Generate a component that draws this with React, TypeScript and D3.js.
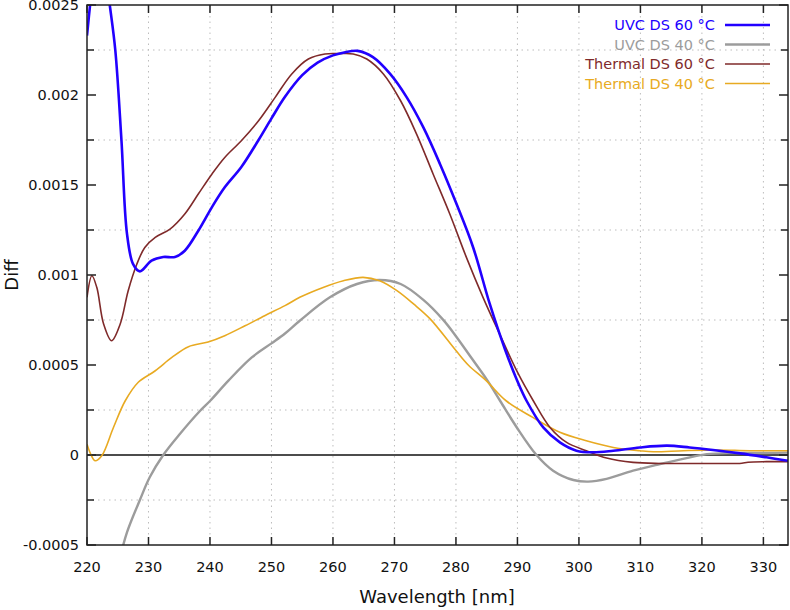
import React from "react";
import * as d3 from "d3";

const uvc60Wl = [220, 220.5, 221.5, 222.5, 223.7, 224.6, 225.6, 226.5, 227.5, 228.6, 230.5, 232.4, 234.3, 235.9, 238.1, 240.3, 242.4, 245.1, 247.9, 250, 252.2, 255, 257.5, 260, 262, 264, 266.5, 269.3, 272, 274.7, 277.4, 280.1, 282.8, 285.5, 288, 290, 291.5, 294.2, 296.9, 299.6, 302.3, 305.6, 309.9, 314.3, 318, 321.8, 326.2, 330.5, 334];
const uvc60Val = [0.00233, 0.0025, 0.0028, 0.0028, 0.0025, 0.00225, 0.00175, 0.00123, 0.00106, 0.00102, 0.00108, 0.0011, 0.0011, 0.001135, 0.001246, 0.001376, 0.001487, 0.0016, 0.00175, 0.00187, 0.00199, 0.00211, 0.00218, 0.00222, 0.002238, 0.002245, 0.00221, 0.002117, 0.001987, 0.00182, 0.001617, 0.001394, 0.001153, 0.000839, 0.000585, 0.00041, 0.0003, 0.000153, 0.00007, 0.000024, 0.000015, 0.000024, 0.000042, 0.000052, 0.000042, 0.000028, 0.000009, -0.000013, -0.000032];

const uvc40Wl = [225.3, 226.5, 228.6, 230.2, 232.4, 235.1, 238.4, 240, 243, 246.8, 250, 252.2, 254.6, 259.5, 263.9, 267.6, 271, 274.7, 277.9, 280, 282.5, 285, 287.2, 289.9, 293.1, 295.8, 299.1, 301.5, 304.5, 308.8, 313.2, 317.5, 320.8, 325.1, 330.5, 334];
const uvc40Val = [-0.00058, -0.00043, -0.00025, -0.000124, 0, 0.000117, 0.000246, 0.0003, 0.000413, 0.000542, 0.00062, 0.000675, 0.000746, 0.000876, 0.00095, 0.000972, 0.00095, 0.000862, 0.000752, 0.00066, 0.00054, 0.00042, 0.0003, 0.000153, 0, -0.000087, -0.000139, -0.000148, -0.000133, -0.000087, -0.00005, -0.000017, 0.000005, 0.000011, 0.000011, 0.000013];

const th60Wl = [220, 220.8, 221.6, 222.7, 224, 225.4, 226.7, 228.1, 229.4, 231.1, 233.5, 235.9, 238.1, 240.3, 242.4, 245.1, 247.9, 250.6, 253.3, 256, 258.7, 261, 263.3, 265.5, 268.2, 271, 273.6, 276.3, 279, 281.7, 284.4, 287, 290, 292.6, 295.3, 298, 301.2, 304.5, 308.8, 313.2, 319.7, 325.1, 326.5, 327.5, 330.5, 334];
const th60Val = [0.000876, 0.000996, 0.00093, 0.000728, 0.000635, 0.000728, 0.000913, 0.00106, 0.001153, 0.001209, 0.001255, 0.001339, 0.00145, 0.00156, 0.001653, 0.001746, 0.001857, 0.001987, 0.002117, 0.0022, 0.002228, 0.00223, 0.002228, 0.0022, 0.002117, 0.001968, 0.001783, 0.00156, 0.001339, 0.001098, 0.000876, 0.00068, 0.00046, 0.0003, 0.000153, 0.00007, 0.000024, -0.000017, -0.000041, -0.000047, -0.000047, -0.000047, -0.000046, -0.00004, -0.000037, -0.000037];

const th40Wl = [220, 220.6, 221.3, 222.4, 224.3, 226.2, 228.3, 231.1, 233.8, 236.5, 239.7, 242.4, 245.7, 248.9, 252.2, 254.6, 258.4, 261.7, 264.9, 267.6, 270.4, 273.1, 275.8, 280, 282, 285, 288.2, 292.5, 296.9, 301.2, 305.6, 309.9, 312.1, 317, 322.4, 327.8, 334];
const th40Val = [0.00006, 0.000005, -0.000032, -0.000004, 0.000153, 0.0003, 0.000403, 0.000468, 0.000542, 0.000602, 0.000628, 0.000663, 0.000718, 0.000774, 0.00083, 0.000876, 0.000931, 0.000968, 0.000987, 0.000968, 0.000913, 0.000839, 0.000756, 0.00058, 0.0005, 0.00041, 0.0003, 0.000209, 0.000126, 0.000079, 0.000042, 0.000024, 0.000018, 0.000024, 0.000028, 0.000024, 0.000024];

const seriesNames = ["UVC DS 60 °C", "UVC DS 40 °C", "Thermal DS 60 °C", "Thermal DS 40 °C"];
const seriesColors = ["#2200ff", "#9c9c9c", "#7f2a2a", "#e8aa22"];
const seriesWidths = [2.6, 2.4, 1.6, 1.6];

const xTicks = [220, 230, 240, 250, 260, 270, 280, 290, 300, 310, 320, 330];
const yTicks = [-0.0005, 0, 0.0005, 0.001, 0.0015, 0.002, 0.0025];
const yTickLabels = ["-0.0005", "0", "0.0005", "0.001", "0.0015", "0.002", "0.0025"];
const yMinorTicks = [-0.00025, 0.00025, 0.00075, 0.00125, 0.00175, 0.00225];

export default function App() {
  const L = 87, R = 788, T = 5, B = 545;
  const x = d3.scaleLinear().domain([220, 334]).range([L, R]);
  const y = d3.scaleLinear().domain([-0.0005, 0.0025]).range([B, T]);
  const font = "'DejaVu Sans', Verdana, sans-serif";

  const datasets = [
    { wl: uvc60Wl, v: uvc60Val },
    { wl: uvc40Wl, v: uvc40Val },
    { wl: th60Wl, v: th60Val },
    { wl: th40Wl, v: th40Val },
  ];
  const line = d3
    .line<[number, number]>()
    .x((d) => x(d[0]))
    .y((d) => y(d[1]))
    .curve(d3.curveCatmullRom.alpha(0.5));

  const drawOrder = [1, 3, 2, 0];

  return (
    <svg
      width={790}
      height={610}
      style={{ position: "absolute", left: 0, top: 0, background: "#fff" }}
      fontFamily={font}
    >
      <defs>
        <clipPath id="plotClip">
          <rect x={L} y={T} width={R - L} height={B - T} />
        </clipPath>
      </defs>
      <rect x={0} y={0} width={790} height={610} fill="#fff" />
      {xTicks.slice(1).map((t) => (
        <line key={"gx" + t} x1={x(t)} x2={x(t)} y1={T} y2={B} stroke="#bdbdbd" strokeWidth={1} strokeDasharray="1.5,4" />
      ))}
      {yMinorTicks.map((t) => (
        <line key={"gy" + t} x1={L} x2={R} y1={y(t)} y2={y(t)} stroke="#bdbdbd" strokeWidth={1} strokeDasharray="1.5,4" />
      ))}
      <line x1={L} x2={R} y1={y(0)} y2={y(0)} stroke="#111" strokeWidth={1.5} />
      <g clipPath="url(#plotClip)">
        {drawOrder.map((i) => (
          <path
            key={"s" + i}
            d={line(datasets[i].wl.map((w, k) => [w, datasets[i].v[k]] as [number, number])) || ""}
            fill="none"
            stroke={seriesColors[i]}
            strokeWidth={seriesWidths[i]}
            strokeLinejoin="round"
          />
        ))}
      </g>
      <rect x={L} y={T} width={R - L} height={B - T} fill="none" stroke="#222" strokeWidth={1.5} />
      {xTicks.map((t) => (
        <g key={"xt" + t}>
          <line x1={x(t)} x2={x(t)} y1={B} y2={B - 8} stroke="#222" strokeWidth={1.5} />
          <line x1={x(t)} x2={x(t)} y1={T} y2={T + 8} stroke="#222" strokeWidth={1.5} />
          <text x={x(t)} y={572} textAnchor="middle" fontSize={14.5} fill="#111">
            {t}
          </text>
        </g>
      ))}
      {yTicks.map((t, i) => (
        <g key={"yt" + t}>
          <line x1={L} x2={L + 9} y1={y(t)} y2={y(t)} stroke="#222" strokeWidth={1.5} />
          <line x1={R} x2={R - 9} y1={y(t)} y2={y(t)} stroke="#222" strokeWidth={1.5} />
          <text x={79} y={y(t) + 5} textAnchor="end" fontSize={14.5} fill="#111">
            {yTickLabels[i]}
          </text>
        </g>
      ))}
      {yMinorTicks.map((t) => (
        <g key={"ym" + t}>
          <line x1={L} x2={L + 7} y1={y(t)} y2={y(t)} stroke="#222" strokeWidth={1.5} />
          <line x1={R} x2={R - 7} y1={y(t)} y2={y(t)} stroke="#222" strokeWidth={1.5} />
        </g>
      ))}
      <text x={437} y={603} textAnchor="middle" fontSize={18} fill="#111">
        Wavelength [nm]
      </text>
      <text transform={`translate(18,${y(0.001)}) rotate(-90)`} textAnchor="middle" fontSize={18} fill="#111">
        Diff
      </text>
      {seriesNames.map((n, i) => {
        const ly = 25 + i * 19.5;
        return (
          <g key={"lg" + i}>
            <text x={715} y={ly + 5} textAnchor="end" fontSize={14.5} fill={seriesColors[i]}>
              {n}
            </text>
            <line x1={725} x2={770} y1={ly} y2={ly} stroke={seriesColors[i]} strokeWidth={seriesWidths[i]} />
          </g>
        );
      })}
    </svg>
  );
}
